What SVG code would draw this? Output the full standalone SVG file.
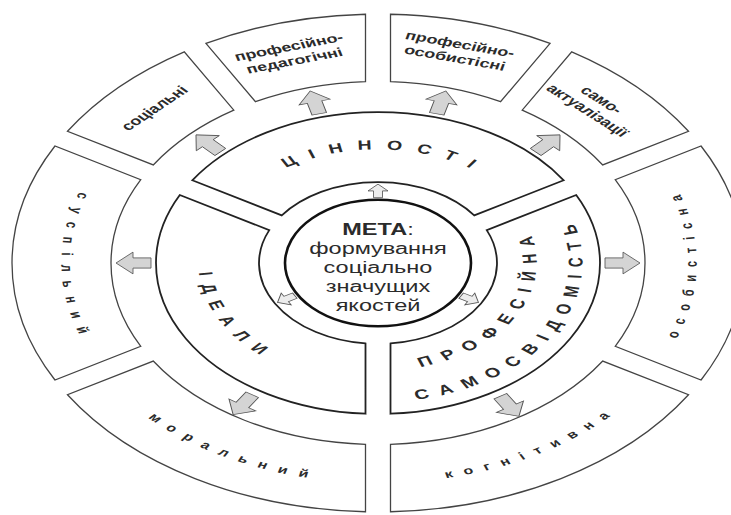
<svg xmlns="http://www.w3.org/2000/svg" xmlns:xlink="http://www.w3.org/1999/xlink" width="731" height="515" viewBox="0 0 731 515">
<style>
.box{fill:#fff;stroke:#444;stroke-width:1.3;vector-effect:non-scaling-stroke}
.ring{fill:#fff;stroke:#222;stroke-width:1.8;vector-effect:non-scaling-stroke}
.core{fill:#fff;stroke:#111;stroke-width:2.6;vector-effect:non-scaling-stroke}
.arr{fill:#d4d4d4;stroke:#555;stroke-width:1;vector-effect:non-scaling-stroke}
.sarr{fill:#ececec;stroke:#555;stroke-width:1;vector-effect:non-scaling-stroke}
text{font-family:"Liberation Sans",Arial,sans-serif;fill:#2b2b2b}
.lbl{font-size:18px;font-weight:bold;text-anchor:middle}
.mid{font-size:19.5px;font-weight:bold;text-anchor:middle}
.out{font-size:16px;font-weight:bold;text-anchor:middle}
.goal{font-size:23.5px;text-anchor:middle}
</style>
<defs>
<polygon id="big" points="-18,-7.5 0,-7.5 0,-16 17,0 0,16 0,7.5 -18,7.5"/>
<polygon id="small" points="-10,-4.5 0,-4.5 0,-10 10,0 0,10 0,4.5 -10,4.5"/>
<path id="pC" d="M-156.93,-57.12 A167,167 0 0 1 156.93,-57.12"/>
<path id="pI" d="M-168.68,-61.39 A179.5,179.5 0 0 0 -31.17,176.77"/>
<path id="pP" d="M-27.52,156.09 A158.5,158.5 0 0 0 121.42,-101.88"/>
<path id="pS" d="M-35.51,201.39 A204.5,204.5 0 0 0 156.66,-131.45"/>
<path id="pSus" d="M-203.5,-242.5 A316.6,316.6 0 0 0 -203.5,242.5"/>
<path id="pOs" d="M204.8,244.1 A318.6,318.6 0 0 0 204.8,-244.1"/>
<path id="pMor" d="M-318.7,56.2 A323.6,323.6 0 0 0 110.7,304.1"/>
<path id="pKog" d="M-110.7,304.1 A323.6,323.6 0 0 0 318.7,56.2"/>
</defs>
<rect x="0" y="0" width="731" height="515" fill="#fff"/>
<g transform="translate(378,263) scale(1,0.68)">
  <g id="socialni">
    <path class="box" d="M-310.52,-193.73 A366,366 0 0 1 -193.72,-310.53 L-144.19,-224.73 A267,267 0 0 0 -224.73,-144.17 Z"/>
    <g transform="rotate(315.5) translate(0,-318)"><text class="lbl" x="0" y="5">соціальні</text></g>
  </g>
  <g id="prof-ped">
    <path class="box" d="M-172.07,-323.03 A366,366 0 0 1 -12.5,-365.79 L-12.5,-266.71 A267,267 0 0 0 -122.53,-237.23 Z"/>
    <g transform="rotate(344.3) translate(0,-318)"><text class="lbl" x="0" y="-6">професійно-</text><text class="lbl" x="0" y="15">педагогічні</text></g>
  </g>
  <g id="prof-os">
    <path class="box" d="M12.5,-365.79 A366,366 0 0 1 172.07,-323.03 L122.53,-237.23 A267,267 0 0 0 12.5,-266.71 Z"/>
    <g transform="rotate(14.3) translate(0,-320)"><text class="lbl" x="0" y="-6">професійно-</text><text class="lbl" x="0" y="15">особистісні</text></g>
  </g>
  <g id="samoakt">
    <path class="box" d="M193.72,-310.53 A366,366 0 0 1 310.52,-193.73 L224.73,-144.17 A267,267 0 0 0 144.19,-224.73 Z"/>
    <g transform="rotate(43) translate(0,-316)"><text class="lbl" x="0" y="-6">само-</text><text class="lbl" x="0" y="15">актуалізації</text></g>
  </g>
  <g id="osobystisna">
    <path class="box" d="M323.04,-172.05 A366,366 0 0 1 323.04,172.05 L237.22,122.54 A267,267 0 0 0 237.22,-122.54 Z"/>
    <text class="out" letter-spacing="12"><textPath href="#pOs" startOffset="278.5">особистісна</textPath></text>
  </g>
  <g id="kognityvna">
    <path class="box" d="M310.52,193.73 A366,366 0 0 1 12.5,365.79 L12.5,266.71 A267,267 0 0 0 224.73,144.17 Z"/>
    <text class="out" letter-spacing="11.8"><textPath href="#pKog" startOffset="282.6">когнітивна</textPath></text>
  </g>
  <g id="moralnyi">
    <path class="box" d="M-12.5,365.79 A366,366 0 0 1 -310.52,193.73 L-224.73,144.17 A267,267 0 0 0 -12.5,266.71 Z"/>
    <text class="out" letter-spacing="11.9"><textPath href="#pMor" startOffset="294">моральний</textPath></text>
  </g>
  <g id="suspilnyi">
    <path class="box" d="M-323.04,172.05 A366,366 0 0 1 -323.04,-172.05 L-237.22,-122.54 A267,267 0 0 0 -237.22,122.54 Z"/>
    <text class="out" letter-spacing="13.7"><textPath href="#pSus" startOffset="283.2">суспільний</textPath></text>
  </g>
  <g id="tsinnosti">
    <path class="ring" d="M-185.70,-121.66 A222,222 0 0 1 185.70,-121.66 L96.23,-70 A119,119 0 0 0 -96.23,-70 Z"/>
    <text class="mid" letter-spacing="14.4"><textPath href="#pC" startOffset="211.2">ЦІННОСТІ</textPath></text>
  </g>
  <g id="profsamosv">
    <path class="ring" d="M198.2,-100 A222,222 0 0 1 12.5,221.65 L12.5,118.34 A119,119 0 0 0 108.73,-48.34 Z"/>
    <text class="mid" style="font-size:20px" letter-spacing="12.2"><textPath href="#pP" startOffset="199.8">ПРОФЕСІЙНА</textPath></text>
    <text class="mid" style="font-size:20px" letter-spacing="11.8"><textPath href="#pS" startOffset="250.4">САМОСВІДОМІСТЬ</textPath></text>
  </g>
  <g id="idealy">
    <path class="ring" d="M-12.5,221.65 A222,222 0 0 1 -198.2,-100 L-108.73,-48.34 A119,119 0 0 0 -12.5,118.34 Z"/>
    <text class="mid" letter-spacing="13"><textPath href="#pI" startOffset="152.8">ІДЕАЛИ</textPath></text>
  </g>
  <g id="meta">
    <circle class="core" cx="0" cy="0" r="93"/>
    <text class="goal" x="0" y="-41"><tspan font-weight="bold">МЕТА</tspan>:</text>
    <text class="goal" x="0" y="-13">формування</text>
    <text class="goal" x="0" y="15">соціально</text>
    <text class="goal" x="0" y="43">значущих</text>
    <text class="goal" x="0" y="71">якостей</text>
  </g>
  <g id="connectors">
    <use href="#big" class="arr" transform="translate(245,0) rotate(0)"/>
    <use href="#big" class="arr" transform="translate(131.9,211.2) rotate(58)"/>
    <use href="#big" class="arr" transform="translate(-135.6,208.8) rotate(123)"/>
    <use href="#big" class="arr" transform="translate(-245,0) rotate(180)"/>
    <use href="#big" class="arr" transform="translate(-170.2,-176.2) rotate(226)"/>
    <use href="#big" class="arr" transform="translate(-63.4,-236.7) rotate(255)"/>
    <use href="#big" class="arr" transform="translate(63.4,-236.7) rotate(285)"/>
    <use href="#big" class="arr" transform="translate(170.2,-176.2) rotate(314)"/>
    <use href="#small" class="sarr" transform="translate(0,-106) rotate(270)"/>
    <use href="#small" class="sarr" transform="translate(-91.8,53) rotate(150)"/>
    <use href="#small" class="sarr" transform="translate(91.8,53) rotate(30)"/>
  </g>
</g>
</svg>
